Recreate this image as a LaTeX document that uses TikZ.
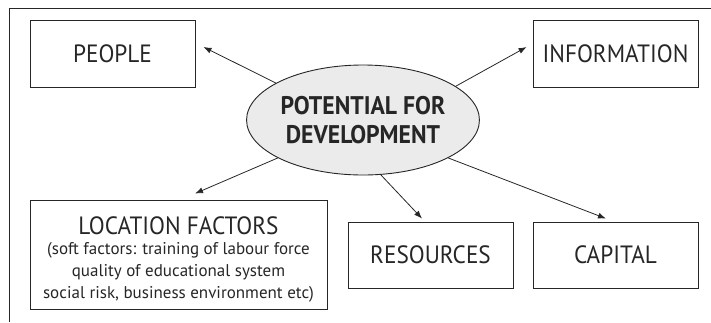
\documentclass[tikz,border=0pt]{standalone}
\usepackage{fontspec}
\setmainfont[FakeStretch=0.93]{PT Sans}
\newfontfamily\notefamily{PT Sans}
\usetikzlibrary{arrows.meta,shapes.geometric}
\definecolor{ink}{HTML}{262626}
\definecolor{ovalgray}{HTML}{EBEBEB}
\newcommand\notefont{\notefamily\fontsize{17}{22}\selectfont}
\tikzset{
  box/.style={draw=ink, line width=0.9pt, text=ink, align=center, inner sep=0pt,
    minimum width=165pt, minimum height=67pt, font=\fontsize{25}{28}\selectfont},
  core/.style={ellipse, draw=ink, line width=0.9pt, fill=ovalgray, text=ink, align=center,
    inner sep=0pt, minimum width=226pt, minimum height=110pt,
    font=\fontsize{25.5}{30}\selectfont\bfseries},
  arrow/.style={-{Latex[length=8pt,width=6pt]}, line width=0.8pt, draw=ink}
}

\begin{document}
\begin{tikzpicture}[x=1pt,y=-1pt]
  \useasboundingbox (0,0) rectangle (711,322);
  % open frame round the scheme
  \draw[ink, line width=1pt] (9,322) -- (9,8) -- (711,8);

  \node[core] (pot) at (363,120) {POTENTIAL FOR\\[-1pt]DEVELOPMENT};
  \node[box] (people) at (112.5,53.5) {PEOPLE};
  \node[box] (info) at (615.5,53.5) {INFORMATION};
  \node[box, minimum width=297pt, minimum height=109pt] (loc) at (178.5,254.5)
    {\rule{0pt}{28pt}LOCATION FACTORS\\[-8pt]
     \notefont (soft factors: training of labour force\\[-6pt]
     \notefont quality of educational system\\[-6pt]
     \notefont social risk, business environment etc)};
  \node[box, minimum height=66pt] (res) at (430.5,255) {RESOURCES};
  \node[box, minimum height=66pt] (cap) at (615.5,255) {CAPITAL};

  \draw[arrow] (pot.157) -- ([xshift=8pt,yshift=6.5pt]people.east);
  \draw[arrow] (pot.20) -- ([xshift=-6pt,yshift=6.5pt]info.west);
  \draw[arrow] (pot.204) -- ([xshift=16.5pt,yshift=6pt]loc.north);
  \draw[arrow] (pot.288) -- ([xshift=-8.5pt,yshift=3pt]res.north);
  \draw[arrow] (pot.336) -- ([xshift=-9.5pt,yshift=3pt]cap.north);
\end{tikzpicture}
\end{document}
